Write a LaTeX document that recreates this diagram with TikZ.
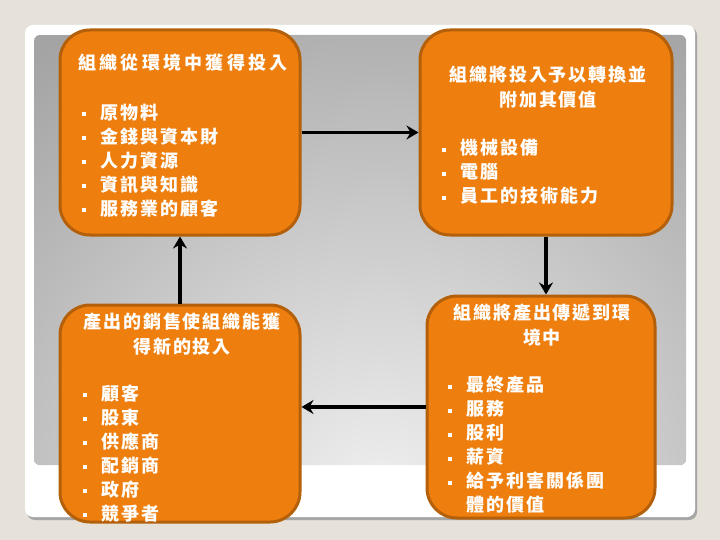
\documentclass[tikz,border=0pt]{standalone}
\usepackage{fontspec}
\newfontfamily\cjk{Noto Sans CJK TC}[LetterSpace=11]
\usetikzlibrary{arrows.meta}
\definecolor{bgbeige}{HTML}{E6E1D9}
\definecolor{boxorange}{HTML}{EE7F0E}
\definecolor{boxedge}{HTML}{B4600B}
\definecolor{paneldark}{HTML}{A4A4A4}
\definecolor{panellight}{HTML}{F0F0F0}
\newcommand{\blt}{\makebox[18pt][l]{\rule[3pt]{4pt}{4pt}}}
\newcommand{\bltsp}{\makebox[18pt][l]{}}
\tikzset{
  orbox/.style={draw=boxedge, line width=3pt, fill=boxorange, rounded corners=30pt, inner sep=0pt},
  titletext/.style={text=white, font=\cjk\bfseries\fontsize{18}{25}\selectfont, align=center, inner sep=0pt},
  listtext/.style={text=white, font=\cjk\bfseries\fontsize{18}{24}\selectfont, align=left, inner sep=0pt, anchor=west},
  flow/.style={line width=3.5pt, -{Stealth[length=12pt,width=14pt,inset=4pt]}}
}
\begin{document}
\begin{tikzpicture}[x=1pt,y=-1pt]
\useasboundingbox (0,0) rectangle (720,540);
\fill[bgbeige] (0,0) rectangle (720,540);
% frame shadow and frame
\fill[black!35, rounded corners=8pt] (27,27) rectangle (697,520);
\fill[white, rounded corners=8pt] (25,25) rectangle (695,517);
% gradient panel
\begin{scope}
  \clip[rounded corners=6pt] (34,35) rectangle (686,465);
  \fill[paneldark] (34,35) rectangle (686,465);
  \shade[inner color=panellight, outer color=paneldark] (380,500) circle (560);
\end{scope}
% boxes
\node[orbox, minimum width=240pt, minimum height=205pt] (b1) at (180,132.5) {};
\node[orbox, minimum width=252pt, minimum height=205pt] (b2) at (546,132.5) {};
\node[orbox, minimum width=240pt, minimum height=217pt] (b3) at (180,413.5) {};
\node[orbox, minimum width=228pt, minimum height=222pt] (b4) at (541,407) {};
% texts
\node[titletext, font=\cjk\bfseries\fontsize{18}{25}\selectfont\addfontfeature{LetterSpace=18}] (t1) at (183,63) {組織從環境中獲得投入};
\node[listtext] (l1) at (82,160.5) {\blt 原物料\\\blt 金錢與資本財\\\blt 人力資源\\\blt 資訊與知識\\\blt 服務業的顧客};
\node[titletext] (t2) at (548,87.5) {組織將投入予以轉換並\\附加其價值};
\node[listtext] (l2) at (442,172) {\blt 機械設備\\\blt 電腦\\\blt 員工的技術能力};
\node[titletext] (t3) at (182,334) {產出的銷售使組織能獲\\得新的投入};
\node[listtext] (l3) at (83,453.5) {\blt 顧客\\\blt 股東\\\blt 供應商\\\blt 配銷商\\\blt 政府\\\blt 競爭者};
\node[titletext] (t4) at (542,325) {組織將產出傳遞到環\\境中};
\node[listtext] (l4) at (448,445) {\blt 最終產品\\\blt 服務\\\blt 股利\\\blt 薪資\\\blt 給予利害關係團\\\bltsp 體的價值};
% connectors
\draw[flow] (b1.east) -- (b2.west);
\draw[flow] (b2.south) -- (b2.south |- b4.north);
\draw[flow] (b4.west) -- (b4.west -| b3.east);
\draw[flow] (b3.north) -- (b1.south);
\end{tikzpicture}
\end{document}
